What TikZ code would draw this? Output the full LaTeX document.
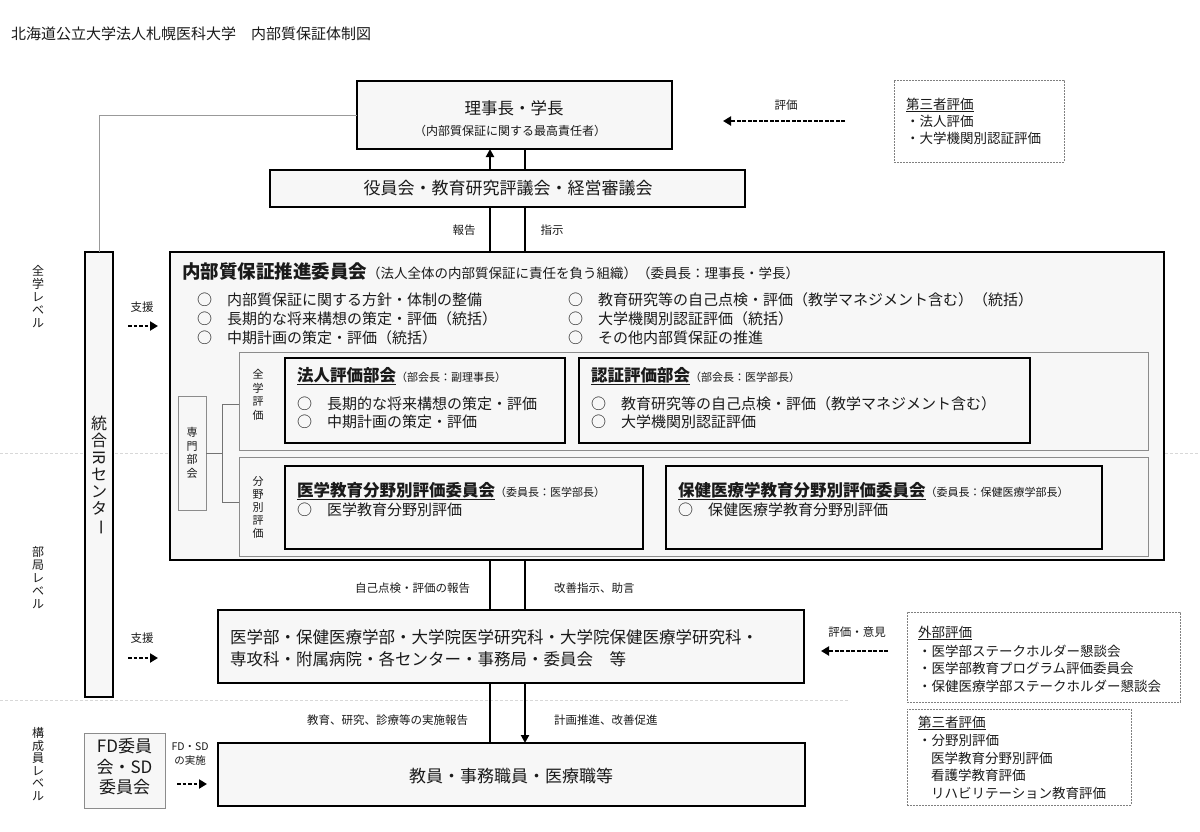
\documentclass[tikz,border=0pt]{standalone}
\usepackage{fontspec}
\usepackage{graphicx}
\setmainfont{Noto Sans CJK JP}
\usetikzlibrary{arrows.meta}
\definecolor{boxfill}{HTML}{F7F7F7}
\definecolor{txtc}{HTML}{1A1A1A}
\definecolor{sepc}{HTML}{D8D8D8}
\newcommand\fsz[2]{\fontsize{#1}{#2}\selectfont}
\begin{document}
\begin{tikzpicture}[x=1pt,y=-1pt,
  every node/.style={inner sep=0pt,outer sep=0pt,text=txtc},
  thickbox/.style={draw=black,line width=2.2pt,fill=boxfill,anchor=north west},
  panel/.style={draw=black!45,line width=0.8pt,fill=boxfill,anchor=north west},
  thinbox/.style={draw=black!45,line width=0.8pt,fill=boxfill,anchor=north west},
  dbox/.style={draw=black!50,line width=0.7pt,dash pattern=on 2pt off 1pt,fill=white,anchor=north west},
  conn/.style={draw=black,line width=2.2pt},
  uparr/.style={conn,-{Triangle[length=8pt,width=8pt]}},
  darr/.style={draw=black,line width=2.7pt,dash pattern=on 3.8pt off 1.7pt,-{Triangle[length=8pt,width=9pt]}},
  grayline/.style={draw=black!40,line width=0.9pt},
  jline/.style={draw=black!55,line width=0.8pt},
  sepline/.style={draw=sepc,line width=0.7pt,dash pattern=on 3pt off 2pt},
  lbl/.style={font=\fsz{11.5}{13}},
  body/.style={anchor=west,font=\fsz{15}{18}},
  note/.style={anchor=west,font=\fsz{13.5}{16}},
  vert/.style={align=center},
]
\useasboundingbox[fill=white] (0,0) rectangle (1200,831);

% level separators
\draw[sepline] (0,453) -- (1200,453);
\draw[sepline] (0,700) -- (849,700);

% title
\node[anchor=west,font=\fsz{15}{18}] (title) at (11,34) {北海道公立大学法人札幌医科大学　内部質保証体制図};

% top boxes
\node[thickbox,minimum width=315,minimum height=68] (riji) at (357,81) {};
\node[font=\fsz{16.5}{20}] (rijiT) at (514,108) {理事長・学長};
\node[font=\fsz{12}{14}] (rijiS) at (510,131) {（内部質保証に関する最高責任者）};

\node[thickbox,minimum width=475,minimum height=37] (yakuin) at (270,170) {};
\node[font=\fsz{17}{20}] (yakuinT) at (508,188.5) {役員会・教育研究評議会・経営審議会};

% third-party evaluation (top)
\node[dbox,minimum width=170,minimum height=82] (dai3a) at (894,80) {};
\node[note] (d3aT) at (906,105) {\underline{第三者評価}};
\node[note] (d3a1) at (906,121) {・法人評価};
\node[note] (d3a2) at (906,138) {・大学機関別認証評価};
\node[lbl] (hyokaL) at (786,105) {評価};
\coordinate (a1s) at (845,121);
\coordinate (a1e) at (723,121);
\draw[darr] (a1s) -- (a1e);

% IR centre
\node[thickbox,minimum width=28,minimum height=445] (ir) at (85,252) {};
\node[vert,font=\fsz{16}{17}] (irT) at (99,476) {統\\合\\\rotatebox[origin=c]{-90}{IR}\\セ\\ン\\タ\\\rotatebox[origin=c]{-90}{ー}};
\draw[grayline] (ir.north) |- (riji.west);

% level labels
\node[vert,font=\fsz{12}{13}] (lv1) at (38,297) {全\\学\\レ\\ベ\\ル};
\node[vert,font=\fsz{12}{13}] (lv2) at (38,578) {部\\局\\レ\\ベ\\ル};
\node[vert,font=\fsz{12}{12.5}] (lv3) at (38,764) {構\\成\\員\\レ\\ベ\\ル};

% support arrows
\node[lbl] (shien1) at (142,307) {支援};
\coordinate (s1s) at (128,326); \coordinate (s1e) at (158,326);
\draw[darr] (s1s) -- (s1e);
\node[lbl] (shien2) at (142,638) {支援};
\coordinate (s2s) at (128,658); \coordinate (s2e) at (158,658);
\draw[darr] (s2s) -- (s2e);

% big committee box
\node[thickbox,minimum width=994,minimum height=308] (naibu) at (170,252) {};
\node[anchor=base west] (naibuT) at (182,278) {\fsz{18.5}{21}\textbf{内部質保証推進委員会}\fsz{13.5}{15}（法人全体の内部質保証に責任を負う組織）（委員長：理事長・学長）};
\node[body] (nb1) at (197,300) {○　内部質保証に関する方針・体制の整備};
\node[body] (nb2) at (197,319) {○　長期的な将来構想の策定・評価（統括）};
\node[body] (nb3) at (197,337.5) {○　中期計画の策定・評価（統括）};
\node[body] (nb4) at (568,300) {○　教育研究等の自己点検・評価（教学マネジメント含む）（統括）};
\node[body] (nb5) at (568,319) {○　大学機関別認証評価（統括）};
\node[body] (nb6) at (568,337.5) {○　その他内部質保証の推進};

% panels
\node[panel,minimum width=909,minimum height=98] (pz) at (239,352) {};
\node[panel,minimum width=909,minimum height=99] (pb) at (239,457) {};
\node[vert,font=\fsz{11}{13.5}] (pzT) at (258,395) {全\\学\\評\\価};
\node[vert,font=\fsz{11}{13}] (pbT) at (258,507) {分\\野\\別\\評\\価};

% senmon bukai
\node[thinbox,minimum width=28,minimum height=114] (senmon) at (178,396) {};
\node[vert,font=\fsz{11}{13.5}] (senmonT) at (192,453) {専\\門\\部\\会};
\coordinate (j1) at (222,404);
\coordinate (j2) at (222,502);
\draw[jline] (pz.west |- j1) -- (j1) -- (j2) -- (pb.west |- j2);
\draw[jline] (senmon.east) -- (senmon.east -| j1);

% sub committees
\node[thickbox,minimum width=280,minimum height=85] (houjin) at (285,358) {};
\node[anchor=base west] (houjinT) at (297,381) {\fsz{16.5}{19}\underline{\textbf{法人評価部会}}\fsz{11}{13}（部会長：副理事長）};
\node[body] (hj1) at (297,404) {○　長期的な将来構想の策定・評価};
\node[body] (hj2) at (297,422) {○　中期計画の策定・評価};

\node[thickbox,minimum width=451,minimum height=85] (ninsho) at (579,358) {};
\node[anchor=base west] (ninshoT) at (591,381) {\fsz{16.5}{19}\underline{\textbf{認証評価部会}}\fsz{11}{13}（部会長：医学部長）};
\node[body] (ns1) at (591,404) {○　教育研究等の自己点検・評価（教学マネジメント含む）};
\node[body] (ns2) at (591,422) {○　大学機関別認証評価};

\node[thickbox,minimum width=358,minimum height=83] (igaku) at (285,466) {};
\node[anchor=base west] (igakuT) at (297,496) {\fsz{16.5}{19}\underline{\textbf{医学教育分野別評価委員会}}\fsz{11}{13}（委員長：医学部長）};
\node[body] (ig1) at (297,510) {○　医学教育分野別評価};

\node[thickbox,minimum width=436,minimum height=83] (hoken) at (666,466) {};
\node[anchor=base west] (hokenT) at (678,496) {\fsz{16.5}{19}\underline{\textbf{保健医療学教育分野別評価委員会}}\fsz{11}{13}（委員長：保健医療学部長）};
\node[body] (hk1) at (678,510) {○　保健医療学教育分野別評価};

% department level box
\node[thickbox,minimum width=586,minimum height=73] (bukyoku) at (218,610) {};
\node[anchor=west,font=\fsz{16.5}{19}] (bk1) at (230,637) {医学部・保健医療学部・大学院医学研究科・大学院保健医療学研究科・};
\node[anchor=west,font=\fsz{16.5}{19}] (bk2) at (230,659) {専攻科・附属病院・各センター・事務局・委員会　等};

% members box
\node[thickbox,minimum width=587,minimum height=63] (kyoin) at (218,743) {};
\node[font=\fsz{17}{20}] (kyoinT) at (511,776) {教員・事務職員・医療職等};

% vertical connectors
\coordinate (xl) at (490,0);
\coordinate (xr) at (525,0);
\draw[uparr] (yakuin.north -| xl) -- (riji.south -| xl);
\draw[conn] (yakuin.north -| xr) -- (riji.south -| xr);
\draw[conn] (naibu.north -| xl) -- (yakuin.south -| xl);
\draw[conn] (naibu.north -| xr) -- (yakuin.south -| xr);
\draw[conn] (bukyoku.north -| xl) -- (naibu.south -| xl);
\draw[conn] (bukyoku.north -| xr) -- (naibu.south -| xr);
\draw[conn] (kyoin.north -| xl) -- (bukyoku.south -| xl);
\draw[conn,-{Triangle[length=8pt,width=8pt]}] (bukyoku.south -| xr) -- (kyoin.north -| xr);

\node[lbl] (hokoku) at (464,230) {報告};
\node[lbl] (shiji) at (552,230) {指示};
\node[lbl,anchor=east] (jiko) at (470,588) {自己点検・評価の報告};
\node[lbl,anchor=west] (kaizen) at (554,588) {改善指示、助言};
\node[lbl,anchor=east] (jisshi) at (468,720) {教育、研究、診療等の実施報告};
\node[lbl,anchor=west] (keikaku) at (554,720) {計画推進、改善促進};

% external evaluation
\node[dbox,minimum width=273,minimum height=90] (gaibu) at (907,612) {};
\node[note] (gbT) at (918,633) {\underline{外部評価}};
\node[note] (gb1) at (918,651) {・医学部ステークホルダー懇談会};
\node[note] (gb2) at (918,668.5) {・医学部教育プログラム評価委員会};
\node[note] (gb3) at (918,686) {・保健医療学部ステークホルダー懇談会};
\node[lbl] (ikenL) at (857,632) {評価・意見};
\coordinate (a2s) at (888,651);
\coordinate (a2e) at (821,651);
\draw[darr] (a2s) -- (a2e);

% third-party evaluation (bottom)
\node[dbox,minimum width=224,minimum height=96] (dai3b) at (907,709) {};
\node[note] (d3bT) at (918,723) {\underline{第三者評価}};
\node[note] (d3b1) at (918,740.5) {・分野別評価};
\node[note] (d3b2) at (931,758) {医学教育分野別評価};
\node[note] (d3b3) at (931,775.5) {看護学教育評価};
\node[note] (d3b4) at (931,793) {リハビリテーション教育評価};

% FD / SD
\node[thinbox,minimum width=81,minimum height=75] (fd) at (84,733) {};
\node[vert,font=\fsz{17}{20.5}] (fdT) at (124.5,767) {FD委員\\会・SD\\委員会};
\node[vert,font=\fsz{10.5}{14}] (fdL) at (190,754) {FD・SD\\の実施};
\coordinate (f1s) at (177,784); \coordinate (f1e) at (207,784);
\draw[darr] (f1s) -- (f1e);
\end{tikzpicture}
\end{document}
